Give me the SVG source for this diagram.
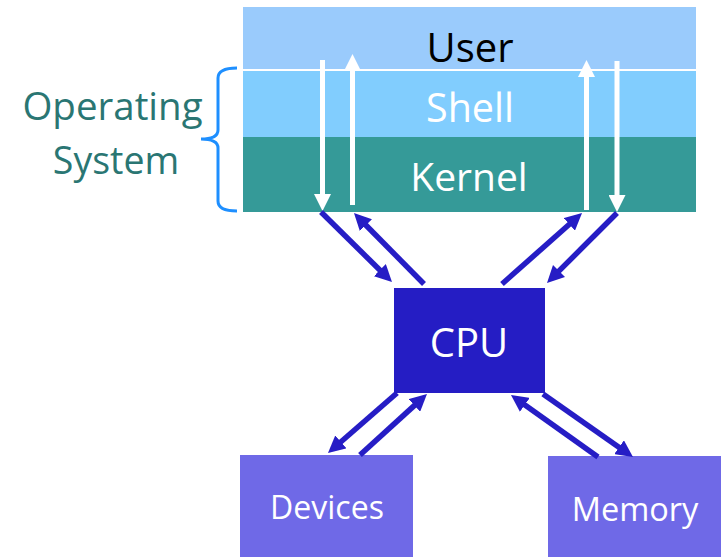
<svg xmlns="http://www.w3.org/2000/svg" width="721" height="557" viewBox="0 0 721 557">
<style>
.t{font-family:"Open Sans","Noto Sans","DejaVu Sans",sans-serif;text-anchor:middle}
.w{fill:#ffffff}
.wl{stroke:#ffffff;stroke-width:5;fill:none}
.bl{stroke:#261DC5;stroke-width:5.5;fill:none}
.box{fill:#6F69E7}
</style>
<defs>
<marker id="hw" viewBox="0 0 17 17" refX="2" refY="8.5" markerWidth="17" markerHeight="17" markerUnits="userSpaceOnUse" orient="auto"><path d="M0,0 L17,8.5 L0,17 z" fill="#ffffff"/></marker>
<marker id="hb" viewBox="0 0 17 17" refX="2" refY="8.5" markerWidth="17" markerHeight="17" markerUnits="userSpaceOnUse" orient="auto"><path d="M0,0 L17,8.5 L0,17 z" fill="#261DC5"/></marker>
</defs>
<rect width="721" height="557" fill="#ffffff"/>
<g id="os-label">
<text class="t" x="112.5" y="120" font-size="38.5" fill="#2A7673">Operating</text>
<text class="t" x="116" y="174" font-size="37.5" fill="#2A7673">System</text>
<path d="M237,68 Q218,68 218,78 L218,130 Q218,139 201,139 Q218,139 218,148 L218,201 Q218,211 237,211" fill="none" stroke="#1E8FFF" stroke-width="3"/>
</g>
<g id="user">
<rect x="243" y="7" width="453" height="62" fill="#9ACBFC"/>
<text class="t" x="470" y="62" font-size="40" fill="#000000">User</text>
</g>
<rect x="243" y="69" width="453" height="2" fill="#ffffff"/>
<g id="shell">
<rect x="243" y="71" width="453" height="66" fill="#81CDFE"/>
<text class="t w" x="470" y="122" font-size="39.5">Shell</text>
</g>
<g id="kernel">
<rect x="243" y="137" width="453" height="75" fill="#359A98"/>
<text class="t w" x="469" y="191" font-size="39">Kernel</text>
</g>
<g id="cpu">
<rect x="394" y="288" width="151" height="105" fill="#251DC4"/>
<text class="t w" x="469" y="357" font-size="40">CPU</text>
</g>
<g id="devices">
<rect class="box" x="240" y="455" width="173" height="102"/>
<text class="t w" x="327" y="519" font-size="32">Devices</text>
</g>
<g id="memory">
<rect class="box" x="548" y="456" width="173" height="101"/>
<text class="t w" x="635" y="521" font-size="32.5">Memory</text>
</g>
<g id="connectors">
<line class="wl" x1="322.5" y1="60" x2="322.5" y2="196" marker-end="url(#hw)"/>
<line class="wl" x1="352.5" y1="205" x2="352.5" y2="69" marker-end="url(#hw)"/>
<line class="wl" x1="586.5" y1="210" x2="586.5" y2="75" marker-end="url(#hw)"/>
<line class="wl" x1="617" y1="61" x2="617" y2="197" marker-end="url(#hw)"/>
<line class="bl" x1="321" y1="212" x2="381.3" y2="271.5" marker-end="url(#hb)"/>
<line class="bl" x1="424" y1="284" x2="364.5" y2="223.7" marker-end="url(#hb)"/>
<line class="bl" x1="502" y1="284" x2="570.8" y2="223" marker-end="url(#hb)"/>
<line class="bl" x1="617" y1="213" x2="557.6" y2="272.4" marker-end="url(#hb)"/>
<line class="bl" x1="397" y1="393" x2="339.3" y2="443.2" marker-end="url(#hb)"/>
<line class="bl" x1="360" y1="455" x2="415.9" y2="404.1" marker-end="url(#hb)"/>
<line class="bl" x1="598" y1="457" x2="523.2" y2="403.7" marker-end="url(#hb)"/>
<line class="bl" x1="543" y1="394" x2="620.7" y2="448.4" marker-end="url(#hb)"/>
</g>
</svg>
